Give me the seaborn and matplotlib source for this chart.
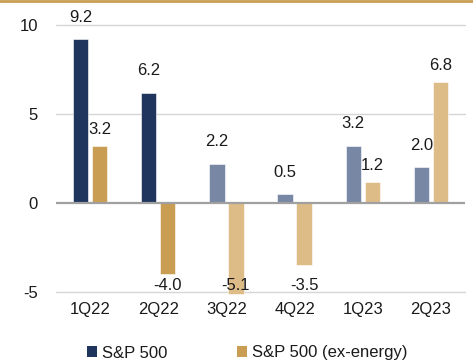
import matplotlib
matplotlib.use("Agg")
import matplotlib.pyplot as plt
from matplotlib.patches import Patch
from matplotlib.lines import Line2D
import seaborn as sns
import pandas as pd

quarters = ["1Q22", "2Q22", "3Q22", "4Q22", "1Q23", "2Q23"]
sp500 = [9.2, 6.2, 2.2, 0.5, 3.2, 2.0]
sp500_ex_energy = [3.2, -4.0, -5.1, -3.5, 1.2, 6.8]
series_names = ["S&P 500", "S&P 500 (ex-energy)"]
yticks = [-5, 0, 5, 10]

# colours: actual (first two quarters) vs later (lighter)
sp_colors = ["#1F355E", "#1F355E", "#7887A3", "#7887A3", "#7887A3", "#7887A3"]
ex_colors = ["#C99D52", "#C99D52", "#DDBC87", "#DDBC87", "#DDBC87", "#DDBC87"]

df = pd.DataFrame({
    "quarter": quarters * 2,
    "value": sp500 + sp500_ex_energy,
    "series": [series_names[0]] * len(quarters) + [series_names[1]] * len(quarters),
})

sns.set_style("white")
plt.rcParams["font.family"] = ["Liberation Sans", "DejaVu Sans"]
FS = 12

fig = plt.figure(figsize=(4.73, 3.62), dpi=100)
ax = fig.add_axes([56 / 473, 1 - 292 / 362, (465 - 56) / 473, (292 - 25) / 362])

sns.barplot(data=df, x="quarter", y="value", hue="series", order=quarters,
            hue_order=series_names, width=0.56, gap=0.2, ax=ax,
            legend=False, errorbar=None)

for cont, cols, off in zip(ax.containers, [sp_colors, ex_colors], [10.5, 6.5]):
    for p, c in zip(cont.patches, cols):
        p.set_facecolor(c)
        p.set_edgecolor("white")
        p.set_linewidth(0.4)
        p.set_clip_on(False)
        p.set_zorder(3)
        h = p.get_height()
        xc = p.get_x() + p.get_width() / 2
        if h >= 0:
            ax.annotate(f"{h:.1f}", (xc, h), xytext=(0, off), textcoords="offset points",
                        ha="center", va="bottom", fontsize=FS, color="#1a1a1a", zorder=4)
        else:
            ax.text(xc, -4.65, f"{h:.1f}", ha="center", va="center",
                    fontsize=FS, color="#1a1a1a", zorder=4)

ax.set_ylim(-5, 10)
ax.set_xlim(-0.5, len(quarters) - 0.5)
ax.set_yticks(yticks)
ax.set_yticklabels([str(t) for t in yticks])
for t in yticks:
    if t != 0:
        ax.axhline(t, color="#D6D6D6", lw=1.0, zorder=1, clip_on=False)
ax.axhline(0, color="#A0A0A0", lw=1.6, zorder=3.5)
for s in ax.spines.values():
    s.set_visible(False)
ax.tick_params(axis="y", length=0, pad=13, labelsize=FS, labelcolor="#1a1a1a")
ax.tick_params(axis="x", length=0, pad=7, labelsize=FS, labelcolor="#1a1a1a")
ax.set_xlabel("")
ax.set_ylabel("")

# top decorative line
fig.add_artist(Line2D([0, 1], [1 - 1.2 / 362, 1 - 1.2 / 362], transform=fig.transFigure,
                      color="#C99D52", lw=2))

handles = [Patch(facecolor=sp_colors[0], edgecolor="none"),
           Patch(facecolor=ex_colors[0], edgecolor="none")]
fig.legend(handles, series_names, loc="center", bbox_to_anchor=(247 / 473, 1 - 353 / 362),
           ncol=2, frameon=False, fontsize=FS, handlelength=0.6, handleheight=0.6,
           handletextpad=0.3, columnspacing=4.2, labelcolor="#1a1a1a")

fig.savefig("out.png", dpi=100)
